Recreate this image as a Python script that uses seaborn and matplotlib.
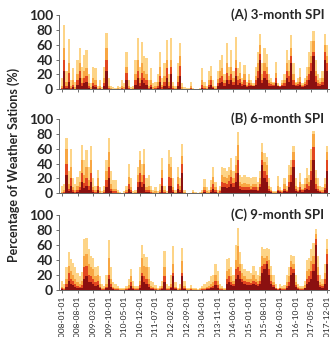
import pandas as pd
import matplotlib
matplotlib.use("Agg")
import matplotlib.pyplot as plt
import seaborn as sns

# monthly dates 2008-01 .. 2017-12
dates = [f"{y}-{m:02d}-01" for y in range(2008, 2018) for m in range(1, 13)]

# percentage of stations per drought class (cumulative: mild >= moderate >= severe >= extreme)
spi3_mild = [15, 87, 25, 68, 12, 28, 10, 40, 56, 30, 46, 53,
             20, 8, 30, 28, 5, 12, 3, 30, 76, 15, 5, 3,
             2, 5, 3, 12, 8, 50, 12, 3, 5, 40, 69, 30,
             63, 45, 42, 12, 28, 8, 10, 20, 50, 15, 35, 67,
             20, 69, 10, 5, 35, 62, 8, 3, 2, 2, 10, 2,
             0, 0, 2, 28, 10, 5, 25, 31, 12, 5, 24, 40,
             46, 20, 62, 30, 53, 25, 71, 28, 37, 15, 33, 10,
             20, 12, 8, 30, 50, 75, 35, 55, 48, 20, 15, 10,
             37, 8, 5, 12, 20, 53, 40, 73, 35, 10, 15, 28,
             8, 15, 30, 50, 65, 79, 40, 20, 15, 25, 75, 60]
spi3_moderate = [5, 55, 10, 35, 4, 12, 3, 20, 35, 15, 25, 28,
                 8, 3, 15, 12, 2, 4, 1, 15, 55, 5, 2, 1,
                 0, 2, 1, 5, 3, 30, 5, 1, 2, 20, 40, 15,
                 35, 25, 20, 5, 12, 3, 4, 10, 30, 6, 18, 40,
                 10, 40, 4, 2, 18, 45, 3, 1, 1, 1, 4, 0,
                 0, 0, 1, 12, 4, 2, 12, 18, 5, 2, 14, 25,
                 28, 12, 35, 18, 30, 15, 40, 18, 22, 10, 20, 6,
                 12, 8, 6, 18, 35, 60, 20, 35, 30, 12, 10, 8,
                 22, 6, 4, 8, 12, 35, 25, 55, 20, 8, 10, 16,
                 6, 10, 18, 30, 45, 65, 25, 12, 10, 15, 60, 45]
spi3_severe = [2, 40, 5, 22, 2, 6, 1, 12, 25, 8, 15, 18,
               4, 1, 8, 6, 1, 2, 0, 8, 40, 2, 1, 0,
               0, 1, 0, 2, 1, 22, 2, 0, 1, 12, 25, 8,
               22, 15, 12, 2, 6, 1, 2, 5, 18, 3, 10, 28,
               5, 30, 2, 1, 10, 32, 1, 0, 0, 0, 2, 0,
               0, 0, 0, 6, 2, 1, 6, 12, 3, 1, 8, 15,
               18, 8, 22, 12, 20, 10, 28, 12, 14, 7, 12, 5,
               8, 6, 5, 12, 25, 48, 12, 25, 20, 8, 7, 6,
               15, 5, 4, 6, 8, 25, 18, 45, 12, 6, 7, 10,
               5, 7, 12, 20, 35, 50, 18, 8, 7, 10, 50, 35]
spi3_extreme = [1, 24, 2, 10, 1, 3, 0, 6, 15, 4, 8, 10,
                2, 0, 4, 3, 0, 1, 0, 4, 25, 1, 0, 0,
                0, 0, 0, 1, 0, 12, 1, 0, 0, 6, 15, 4,
                12, 8, 6, 1, 3, 0, 1, 2, 10, 1, 5, 15,
                2, 20, 1, 0, 5, 18, 0, 0, 0, 0, 1, 0,
                0, 0, 0, 2, 1, 0, 3, 6, 2, 0, 4, 8,
                10, 5, 12, 7, 12, 6, 18, 6, 8, 4, 6, 3,
                5, 4, 4, 6, 15, 40, 8, 15, 12, 5, 4, 4,
                8, 4, 3, 4, 5, 15, 10, 35, 6, 4, 4, 6,
                3, 4, 6, 12, 25, 45, 10, 5, 4, 6, 40, 25]

spi6_mild = [10, 12, 74, 30, 60, 20, 12, 22, 30, 65, 45, 58,
             35, 64, 20, 10, 32, 8, 3, 10, 45, 74, 30, 18,
             18, 5, 2, 0, 3, 10, 39, 20, 3, 5, 35, 57,
             40, 59, 20, 25, 10, 5, 8, 3, 12, 48, 10, 3,
             58, 49, 20, 5, 35, 20, 66, 5, 0, 0, 0, 4,
             2, 0, 2, 5, 19, 8, 5, 18, 35, 15, 5, 10,
             35, 34, 30, 36, 47, 30, 50, 83, 25, 22, 24, 22,
             22, 20, 22, 22, 15, 30, 68, 54, 49, 20, 8, 3,
             3, 23, 8, 5, 20, 10, 38, 45, 64, 20, 8, 27,
             12, 20, 34, 25, 60, 84, 31, 20, 10, 8, 20, 64]
spi6_moderate = [2, 4, 60, 12, 35, 8, 4, 10, 15, 45, 25, 35,
                 18, 45, 8, 4, 20, 3, 1, 4, 30, 55, 12, 6,
                 6, 2, 0, 0, 1, 4, 22, 8, 1, 2, 25, 45,
                 25, 40, 8, 10, 4, 2, 3, 1, 5, 32, 4, 1,
                 40, 35, 8, 2, 22, 10, 50, 2, 0, 0, 0, 2,
                 0, 0, 1, 2, 8, 3, 2, 8, 22, 8, 2, 5,
                 25, 22, 20, 25, 32, 20, 38, 65, 15, 12, 14, 12,
                 12, 10, 12, 12, 8, 20, 55, 42, 38, 10, 4, 2,
                 2, 10, 4, 3, 12, 5, 25, 35, 55, 10, 4, 15,
                 6, 12, 20, 15, 45, 80, 20, 10, 5, 4, 12, 55]
spi6_severe = [1, 2, 40, 6, 20, 4, 2, 5, 8, 28, 14, 20,
               10, 28, 4, 2, 10, 1, 0, 2, 18, 35, 6, 3,
               3, 1, 0, 0, 0, 2, 12, 4, 0, 1, 15, 28,
               15, 25, 4, 5, 2, 1, 1, 0, 2, 20, 2, 0,
               22, 20, 4, 1, 12, 5, 40, 1, 0, 0, 0, 1,
               0, 0, 0, 1, 4, 1, 1, 4, 12, 4, 1, 3,
               15, 14, 12, 16, 22, 14, 28, 45, 10, 8, 9, 8,
               8, 6, 8, 8, 5, 12, 45, 30, 25, 6, 3, 1,
               1, 5, 3, 2, 6, 3, 15, 25, 45, 6, 3, 8,
               4, 7, 12, 10, 30, 63, 12, 6, 3, 2, 7, 45]
spi6_extreme = [0, 1, 25, 3, 10, 2, 1, 2, 4, 15, 7, 10,
                5, 15, 2, 1, 5, 0, 0, 1, 8, 20, 3, 1,
                1, 0, 0, 0, 0, 1, 6, 2, 0, 0, 8, 15,
                8, 12, 2, 2, 1, 0, 0, 0, 1, 10, 1, 0,
                10, 10, 2, 0, 6, 2, 28, 0, 0, 0, 0, 0,
                0, 0, 0, 0, 2, 0, 0, 2, 6, 2, 0, 1,
                8, 8, 7, 9, 12, 8, 15, 28, 6, 5, 5, 5,
                5, 4, 5, 5, 3, 8, 38, 20, 15, 3, 2, 1,
                1, 3, 2, 1, 3, 2, 8, 15, 35, 3, 2, 4,
                2, 4, 6, 5, 18, 45, 6, 3, 2, 1, 4, 30]

spi9_mild = [12, 8, 30, 50, 41, 36, 30, 22, 18, 24, 68, 69,
             55, 45, 43, 30, 32, 18, 8, 5, 20, 67, 30, 10,
             8, 5, 3, 3, 2, 5, 15, 28, 12, 5, 5, 30,
             60, 48, 44, 30, 12, 11, 6, 3, 5, 12, 52, 8,
             5, 20, 59, 10, 3, 8, 56, 12, 3, 2, 6, 2,
             3, 1, 2, 5, 8, 10, 12, 18, 20, 34, 25, 8,
             5, 3, 41, 43, 30, 20, 60, 82, 50, 35, 28, 25,
             25, 22, 32, 25, 20, 30, 57, 55, 56, 55, 32, 20,
             8, 3, 8, 5, 6, 20, 30, 46, 45, 20, 8, 5,
             5, 12, 40, 43, 55, 62, 81, 45, 20, 15, 35, 68]
spi9_moderate = [4, 3, 15, 32, 25, 20, 15, 10, 8, 12, 45, 48,
                 35, 30, 28, 18, 20, 8, 3, 2, 8, 42, 15, 4,
                 3, 2, 1, 1, 1, 2, 6, 18, 5, 2, 2, 12,
                 42, 32, 30, 15, 5, 4, 2, 1, 2, 5, 30, 3,
                 2, 8, 35, 4, 1, 3, 38, 5, 1, 1, 2, 1,
                 1, 0, 1, 2, 3, 4, 5, 8, 10, 20, 12, 3,
                 2, 1, 25, 28, 18, 12, 40, 58, 35, 22, 18, 15,
                 15, 14, 20, 15, 12, 18, 45, 42, 45, 40, 20, 10,
                 3, 1, 3, 2, 2, 10, 18, 38, 35, 10, 4, 2,
                 2, 6, 25, 28, 38, 45, 75, 30, 10, 8, 22, 55]
spi9_severe = [2, 1, 8, 22, 15, 12, 8, 5, 4, 6, 30, 32,
               20, 18, 15, 10, 12, 4, 1, 1, 4, 20, 8, 2,
               1, 1, 0, 0, 0, 1, 3, 10, 2, 1, 1, 6,
               22, 18, 15, 8, 2, 2, 1, 0, 1, 2, 18, 1,
               1, 4, 22, 2, 0, 1, 22, 2, 0, 0, 1, 0,
               0, 0, 0, 1, 1, 2, 2, 4, 5, 12, 6, 1,
               1, 0, 15, 18, 10, 8, 28, 30, 25, 15, 12, 10,
               10, 9, 12, 10, 8, 12, 32, 35, 38, 28, 12, 6,
               2, 1, 2, 1, 1, 5, 10, 30, 28, 6, 2, 1,
               1, 3, 15, 18, 25, 35, 68, 20, 6, 5, 15, 48]
spi9_extreme = [1, 0, 4, 12, 8, 6, 4, 2, 2, 3, 15, 18,
                10, 10, 8, 5, 6, 2, 0, 0, 2, 15, 4, 1,
                0, 0, 0, 0, 0, 0, 1, 5, 1, 0, 0, 3,
                18, 10, 8, 4, 1, 1, 0, 0, 0, 1, 10, 0,
                0, 2, 18, 1, 0, 0, 18, 1, 0, 0, 0, 0,
                0, 0, 0, 0, 0, 1, 1, 2, 2, 6, 3, 0,
                0, 0, 8, 10, 6, 5, 15, 20, 15, 10, 8, 7,
                7, 6, 8, 7, 5, 8, 22, 28, 35, 20, 8, 4,
                1, 0, 1, 0, 0, 3, 5, 20, 22, 4, 1, 0,
                0, 2, 8, 10, 15, 25, 60, 12, 4, 3, 8, 35]

panel_titles = ["(A) 3-month SPI", "(B) 6-month SPI", "(C) 9-month SPI"]
panel_data = [
    [spi3_mild, spi3_moderate, spi3_severe, spi3_extreme],
    [spi6_mild, spi6_moderate, spi6_severe, spi6_extreme],
    [spi9_mild, spi9_moderate, spi9_severe, spi9_extreme],
]
classes = ["Mild", "Moderate", "Severe", "Extreme"]
colors = {"Mild": "#fdd487", "Moderate": "#f8a642",
          "Severe": "#e2461f", "Extreme": "#8b1010"}

sns.set_style("ticks")
plt.rcParams['font.family'] = ['Lato', 'DejaVu Sans']

fig = plt.figure(figsize=(3.34, 3.37), dpi=100)
# axes boxes [left, bottom, width, height] in figure fraction
boxes = [[0.177, 0.735, 0.807, 0.2205],
         [0.177, 0.4264, 0.807, 0.2204],
         [0.177, 0.1395, 0.807, 0.2226]]

for k, (title, layers) in enumerate(zip(panel_titles, panel_data)):
    ax = fig.add_axes(boxes[k])
    df = pd.DataFrame({"date": dates})
    for name, vals in zip(classes, layers):
        df[name] = vals
    # tallest (cumulative) class first, darker classes drawn on top
    for name in classes:
        sns.barplot(data=df, x="date", y=name, color=colors[name],
                    width=1.0, linewidth=0, saturation=1, ax=ax)
    ax.set_xlim(-1.3, 119.8)
    ax.set_ylim(0, 100)
    ax.set_yticks([0, 20, 40, 60, 80, 100])
    ax.set_yticklabels(["0", "20", "40", "60", "80", "100"],
                       fontsize=10, fontweight='bold')
    ax.set_xticks(range(0, 120, 7))
    if k == 2:
        ax.set_xticklabels(dates[::7], rotation=90, fontsize=6)
    else:
        ax.set_xticklabels([])
    ax.set_xlabel("")
    ax.set_ylabel("")
    ax.tick_params(axis='both', length=2.5, width=0.6, color="#555555", pad=2)
    for side in ["left", "bottom"]:
        ax.spines[side].set_color("#666666")
        ax.spines[side].set_linewidth(0.7)
    sns.despine(ax=ax)
    ax.text(0.985, 1.0, title, transform=ax.transAxes, ha='right', va='center',
            fontsize=9.5, fontweight='bold')

fig.text(0.042, 0.51, "Percentage of Weather Sations (%)", rotation=90,
         ha='center', va='center', fontsize=9, fontweight='bold')

fig.savefig("out.png", dpi=100)
